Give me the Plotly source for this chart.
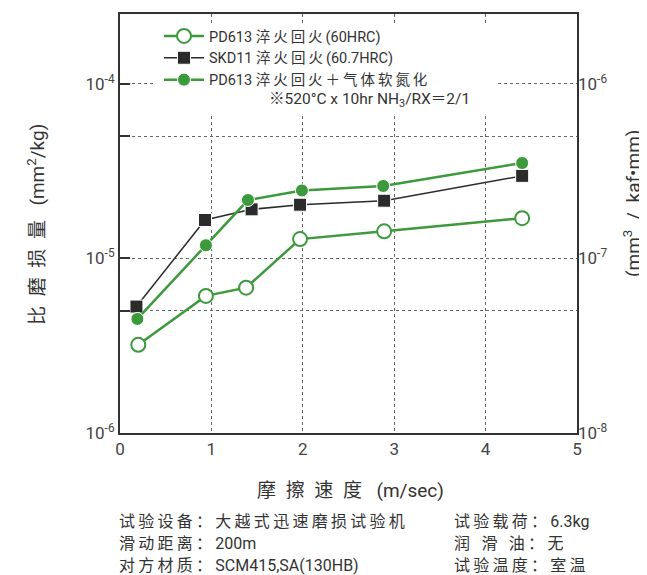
import re
import plotly.graph_objects as go

# ---- data ----
x_open = [0.2, 0.94, 1.38, 1.97, 2.89, 4.4]
y_open = [3.2e-6, 6.1e-6, 6.8e-6, 1.29e-5, 1.43e-5, 1.70e-5]

x_skd = [0.18, 0.93, 1.44, 1.97, 2.89, 4.4]
y_skd = [5.3e-6, 1.66e-5, 1.91e-5, 2.03e-5, 2.14e-5, 2.97e-5]

x_nit = [0.19, 0.94, 1.4, 1.99, 2.88, 4.4]
y_nit = [4.5e-6, 1.19e-5, 2.16e-5, 2.45e-5, 2.60e-5, 3.52e-5]

names = ["PD613 淬火回火(60HRC)", "SKD11 淬火回火(60.7HRC)", "PD613 淬火回火＋气体软氮化"]
note = "※520°C x 10hr NH<sub>3</sub>/RX＝2/1"

x_ticks = [0, 1, 2, 3, 4, 5]
y_tickvals = [1e-6, 5e-6, 1e-5, 5e-5, 1e-4]
y_ticktext = ["10<sup>-6</sup>", "", "10<sup>-5</sup>", "", "10<sup>-4</sup>"]
y2_tickvals = [1e-8, 1e-7, 1e-6]
y2_ticktext = ["10<sup>-8</sup>", "10<sup>-7</sup>", "10<sup>-6</sup>"]

y_title = "比磨损量 (mm<sup>2</sup>/kg)"
y2_title = "(mm<sup>3</sup>\u2002/\u2002kaf•mm)"
x_title = "摩擦速度 (m/sec)"

footnotes_left = ["试验设备：大越式迅速磨损试验机", "滑动距离：200m", "对方材质：SCM415,SA(130HB)"]
footnotes_right = ["试验载荷：6.3kg", "润\u2002滑\u2002油：无", "试验温度：室温"]

GREEN = "#3c9a3c"
DARK = "#2b2b2b"
TXT = "#333333"
FONT = "Roboto, 'Noto Sans CJK SC', sans-serif"

CJK = "\u3000-\u303f\u4e00-\u9fff\uff00-\uffef"


def spaced(s, sep="\u2009"):
    """add a small gap after each CJK character (the reference uses loose CJK spacing)"""
    return re.sub(r"([%s])(?=.)" % CJK, lambda m: m.group(1) + sep, s)


# page body has an 8px margin: figure is drawn 8px right/down of window origin
OFF = 8
W, H = 647 - OFF, 575 - OFF
L, R, T, B = 120 - OFF, 577 - OFF, 14 - OFF, 433 - OFF  # plot area in figure px
pw, ph = R - L, B - T


def px2paper(xr, yr):
    """reference-window pixel -> paper coords"""
    return (xr - OFF - L) / pw, (B - (yr - OFF)) / ph


fig = go.Figure()
fig.add_trace(go.Scatter(
    x=x_open, y=y_open, name=spaced(names[0]), mode="lines+markers",
    line=dict(color=GREEN, width=2.5),
    marker=dict(symbol="circle", size=14, color="white", line=dict(color=GREEN, width=2)),
))
fig.add_trace(go.Scatter(
    x=x_skd, y=y_skd, name=spaced(names[1]), mode="lines+markers",
    line=dict(color=DARK, width=1.5),
    marker=dict(symbol="square", size=13, color=DARK, line=dict(color="white", width=1)),
))
fig.add_trace(go.Scatter(
    x=x_nit, y=y_nit, name=spaced(names[2]), mode="lines+markers",
    line=dict(color=GREEN, width=2.5),
    marker=dict(symbol="circle", size=13, color=GREEN, line=dict(color="white", width=1)),
))
# invisible trace to activate the right axis
fig.add_trace(go.Scatter(
    x=x_skd, y=[v / 100 for v in y_skd], yaxis="y2", mode="lines",
    line=dict(width=0), opacity=0, showlegend=False, hoverinfo="skip",
))

lx, ly = px2paper(159, 20)
bx0, by0 = px2paper(153, 116)
bx1, by1 = px2paper(497, 24)
fig.update_layout(
    width=W, height=H,
    margin=dict(l=L, r=W - R, t=T, b=H - B, autoexpand=False),
    paper_bgcolor="white", plot_bgcolor="white",
    font=dict(family=FONT, size=14, color=TXT),
    showlegend=True,
    legend=dict(x=lx, y=ly, xanchor="left", yanchor="top",
                bgcolor="rgba(0,0,0,0)", font=dict(size=14.5, color=TXT),
                tracegroupgap=0, itemwidth=40),
    shapes=[dict(type="rect", xref="paper", yref="paper", x0=bx0, x1=bx1, y0=by0, y1=by1,
                 fillcolor="white", line=dict(width=0), layer="above")],
    xaxis=dict(
        range=[0, 5], tickvals=x_ticks, ticktext=[str(v) for v in x_ticks],
        showgrid=True, gridcolor="#666", griddash="dot", gridwidth=1,
        showline=True, linecolor="#333", linewidth=2, mirror=True,
        ticks="", zeroline=False,
        tickfont=dict(size=17, color="#444"),
    ),
    yaxis=dict(
        type="log", range=[-6, -3.6],
        tickvals=y_tickvals, ticktext=y_ticktext,
        showgrid=True, gridcolor="#666", griddash="dot", gridwidth=1,
        showline=True, linecolor="#333", linewidth=2, mirror=True,
        ticks="inside", ticklen=10, tickcolor="#333", tickwidth=1.5,
        tickfont=dict(size=17, color="#444"),
    ),
    yaxis2=dict(
        type="log", range=[-8, -5.6], overlaying="y", side="right",
        tickvals=y2_tickvals, ticktext=y2_ticktext,
        showgrid=False, ticks="", showline=False, zeroline=False,
        tickfont=dict(size=17, color="#444"),
    ),
)

annotations = []


def add_text(text, xr, yr, size, xanchor="center", angle=0):
    xp, yp = px2paper(xr, yr)
    annotations.append(dict(text=text, x=xp, y=yp, xref="paper", yref="paper",
                            xanchor=xanchor, yanchor="middle", showarrow=False,
                            textangle=angle, font=dict(size=size, color=TXT)))


add_text(note, 267, 100, 15.5, xanchor="left")
add_text(spaced(y_title, "\u2002"), 36, 225, 19, angle=-90)
add_text(y2_title, 632, 204, 19, angle=-90)
add_text(spaced(x_title, "\u2002"), 350, 490, 19)
for i, (l, r) in enumerate(zip(footnotes_left, footnotes_right)):
    yr = 521 + i * 22
    add_text(spaced(l), 117, yr, 16, xanchor="left")
    add_text(spaced(r), 452, yr, 16, xanchor="left")
fig.update_layout(annotations=annotations)

fig.write_html("out.html")
